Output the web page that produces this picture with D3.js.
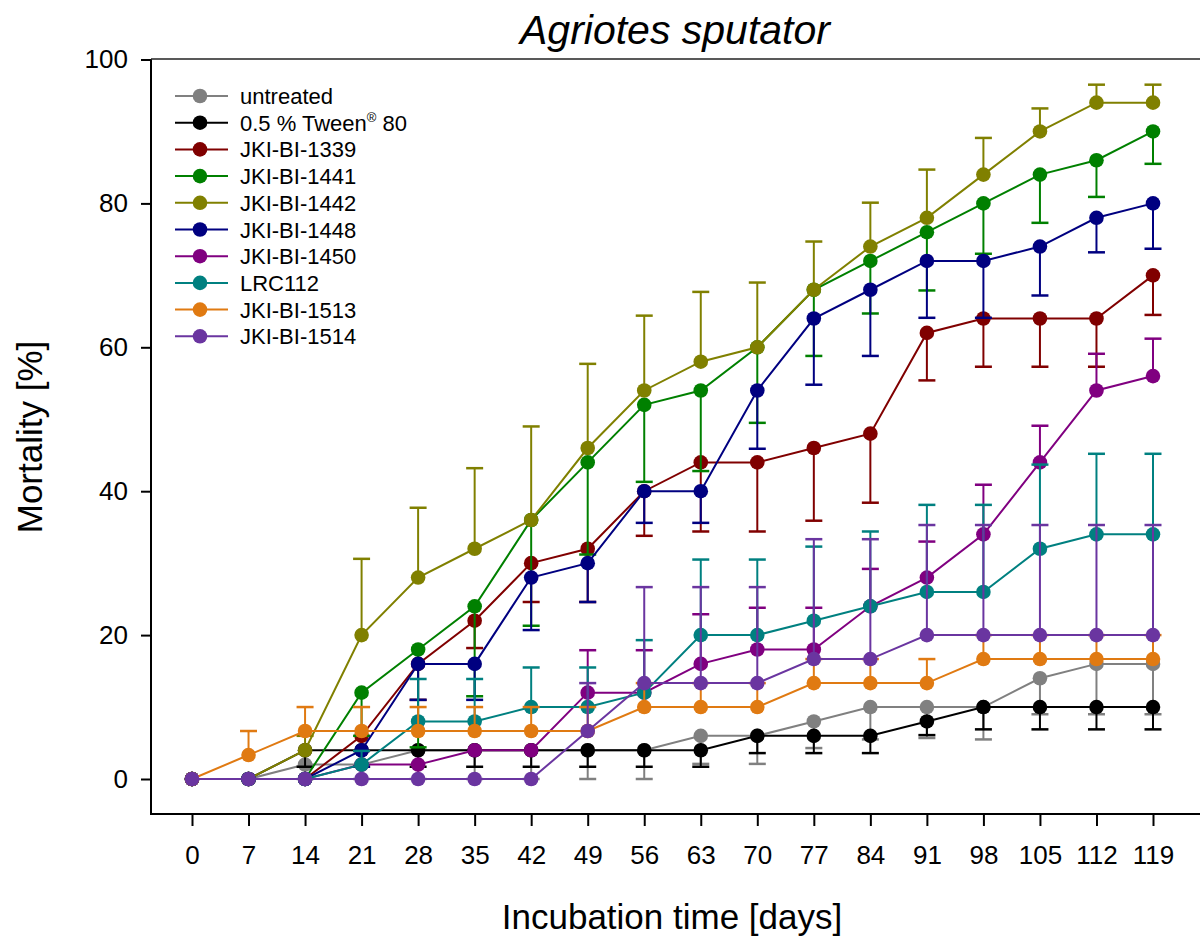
<!DOCTYPE html>
<html><head><meta charset="utf-8">
<script src="https://cdn.jsdelivr.net/npm/d3@7"></script>
<style>body{margin:0;background:#fff}svg{display:block}text{font-family:Arial,"Liberation Sans",sans-serif}</style>
</head><body><svg id="c" width="1200" height="938"></svg>
<script>
const days = [0,7,14,21,28,35,42,49,56,63,70,77,84,91,98,105,112,119];
const yTicks = [0,20,40,60,80,100];
const seriesNames = ["untreated","0.5 % Tween® 80","JKI-BI-1339","JKI-BI-1441","JKI-BI-1442","JKI-BI-1448","JKI-BI-1450","LRC112","JKI-BI-1513","JKI-BI-1514"];
const seriesColors = ["#808080","#000000","#800000","#008000","#808000","#000080","#800080","#008080","#E07A12","#6A35A0"];
// mean mortality [%]
const untreated = [0,0,2,2,4,4,4,4,4,6,6,8,10,10,10,14,16,16];
const tween     = [0,0,4,4,4,4,4,4,4,4,6,6,6,8,10,10,10,10];
const bi1339    = [0,0,0,6,16,22,30,32,40,44,44,46,48,62,64,64,64,70];
const bi1441    = [0,0,0,12,18,24,36,44,52,54,60,68,72,76,80,84,86,90];
const bi1442    = [0,0,4,20,28,32,36,46,54,58,60,68,74,78,84,90,94,94];
const bi1448    = [0,0,0,4,16,16,28,30,40,40,54,64,68,72,72,74,78,80];
const bi1450    = [0,0,0,2,2,4,4,12,12,16,18,18,24,28,34,44,54,56];
const lrc112    = [0,0,0,2,8,8,10,10,12,20,20,22,24,26,26,32,34,34];
const bi1513    = [0,3.33,6.67,6.67,6.67,6.67,6.67,6.67,10,10,10,13.33,13.33,13.33,16.67,16.67,16.67,16.67];
const bi1514    = [0,0,0,0,0,0,0,6.67,13.33,13.33,13.33,16.67,16.67,20,20,20,20,20];
// error bar end values (one-sided)
const untreatedErr = [0,0,0,0,0,0,0,0,0,2.1,2.1,4.3,5.5,5.7,5.5,9,9,9];
const tweenErr     = [0,0,1.7,1.7,1.7,1.7,1.7,1.7,1.7,1.7,3.6,3.6,3.6,6.1,6.9,6.9,6.9,6.9];
const bi1339Err    = [0,0,0,3.9,11,18.2,24.6,24.6,33.8,34.4,34.4,35.9,38.4,55.4,57.3,57.3,57.3,64.5];
const bi1441Err    = [0,0,0,6,4.4,11.5,21.3,31.2,41.3,42.8,49.5,58.8,64.7,67.9,73,77.3,80.9,85.5];
const bi1442Err    = [0,0,6,30.6,37.7,43.2,49,57.7,64.4,67.7,69,74.7,80.1,84.7,89.1,93.2,96.5,96.5];
const bi1448Err    = [0,0,0,1.7,11,11,20.7,24.6,35.6,35.6,45.9,54.8,58.8,64.1,64.1,67.2,73.2,73.7];
const bi1450Err    = [0,0,0,2,2,4,4,17.9,17.9,22.9,23.8,23.8,29.2,33,40.9,49.1,59.1,61.2];
const lrc112Err    = [0,0,0,3.9,13.9,13.9,15.5,15.5,19.3,30.5,30.5,32.3,34.4,38.1,38.1,43.7,45.2,45.2];
const bi1513Err    = [0,6.67,10,10,10,10,10,10,13.33,13.33,13.33,16.67,16.67,16.67,20,20,20,20];
const bi1514Err    = [0,0,0,0,0,0,0,13.33,26.67,26.67,26.67,33.33,33.33,35.3,35.3,35.3,35.3,35.3];

const means = [untreated,tween,bi1339,bi1441,bi1442,bi1448,bi1450,lrc112,bi1513,bi1514];
const errs  = [untreatedErr,tweenErr,bi1339Err,bi1441Err,bi1442Err,bi1448Err,bi1450Err,lrc112Err,bi1513Err,bi1514Err];

const svg = d3.select("#c");
const x = d3.scaleLinear().domain([0,119]).range([192,1153]);
const y = d3.scaleLinear().domain([0,100]).range([779,59.5]);
const axL = 151, axB = 814, axR = 1200;
const FF = "Arial, 'Liberation Sans', sans-serif";

// title
svg.append("text").attr("x",675).attr("y",44).attr("text-anchor","middle")
  .attr("font-size",41).attr("font-style","italic").text("Agriotes sputator");

// frame
svg.append("line").attr("x1",axL).attr("x2",axL).attr("y1",59).attr("y2",axB+1).attr("stroke","#000").attr("stroke-width",2);
svg.append("line").attr("x1",axL-1).attr("x2",axR).attr("y1",axB).attr("y2",axB).attr("stroke","#000").attr("stroke-width",2);
svg.append("line").attr("x1",axL).attr("x2",axR).attr("y1",59).attr("y2",59).attr("stroke","#222").attr("stroke-width",1.5);

// y axis
const ya = svg.append("g").attr("transform",`translate(${axL},0)`)
  .call(d3.axisLeft(y).tickValues(yTicks).tickSize(10).tickPadding(13).tickFormat(d3.format("d")));
ya.select(".domain").remove();
ya.selectAll(".tick line").attr("stroke-width",2);
ya.selectAll("text").attr("font-size",26).attr("fill","#000").attr("font-family",FF);

// x axis
const xa = svg.append("g").attr("transform",`translate(0,${axB})`)
  .call(d3.axisBottom(x).tickValues(days).tickSize(12).tickPadding(20).tickFormat(d3.format("d")));
xa.select(".domain").remove();
xa.selectAll(".tick line").attr("stroke-width",2);
xa.selectAll("text").attr("font-size",26).attr("fill","#000").attr("font-family",FF);

// axis titles
svg.append("text").attr("x",672).attr("y",929).attr("text-anchor","middle").attr("font-size",35).text("Incubation time [days]");
svg.append("text").attr("transform","translate(42,437) rotate(-90)").attr("text-anchor","middle").attr("font-size",35).text("Mortality [%]");

// series
const line = d3.line().x((d,i)=>x(days[i])).y(d=>y(d));
const capW = 8.5;
means.forEach((m,si)=>{
  const g = svg.append("g");
  const col = seriesColors[si];
  const e = errs[si];
  days.forEach((dday,i)=>{
    if (Math.abs(e[i]-m[i]) < 0.01) return;
    g.append("line").attr("x1",x(dday)).attr("x2",x(dday)).attr("y1",y(m[i])).attr("y2",y(e[i]))
      .attr("stroke",col).attr("stroke-width",2);
    g.append("line").attr("x1",x(dday)-capW).attr("x2",x(dday)+capW).attr("y1",y(e[i])).attr("y2",y(e[i]))
      .attr("stroke",col).attr("stroke-width",2.5);
  });
  g.append("path").datum(m).attr("d",line).attr("fill","none").attr("stroke",col).attr("stroke-width",2);
  g.selectAll("circle").data(m).enter().append("circle")
    .attr("cx",(d,i)=>x(days[i])).attr("cy",d=>y(d)).attr("r",7.3).attr("fill",col);
});

// legend
const lg = svg.append("g");
seriesNames.forEach((n,i)=>{
  const yy = 96 + i*26.7;
  lg.append("line").attr("x1",175).attr("x2",228).attr("y1",yy).attr("y2",yy).attr("stroke",seriesColors[i]).attr("stroke-width",2);
  lg.append("circle").attr("cx",200).attr("cy",yy).attr("r",7.3).attr("fill",seriesColors[i]);
  const t = lg.append("text").attr("x",240).attr("y",yy+8).attr("font-size",22);
  if (n.includes("®")) {
    const parts = n.split("®");
    t.append("tspan").text(parts[0]);
    t.append("tspan").attr("font-size",13).attr("dy",-9).text("®");
    t.append("tspan").attr("dy",9).text(parts[1]);
  } else t.text(n);
});
</script></body></html>
